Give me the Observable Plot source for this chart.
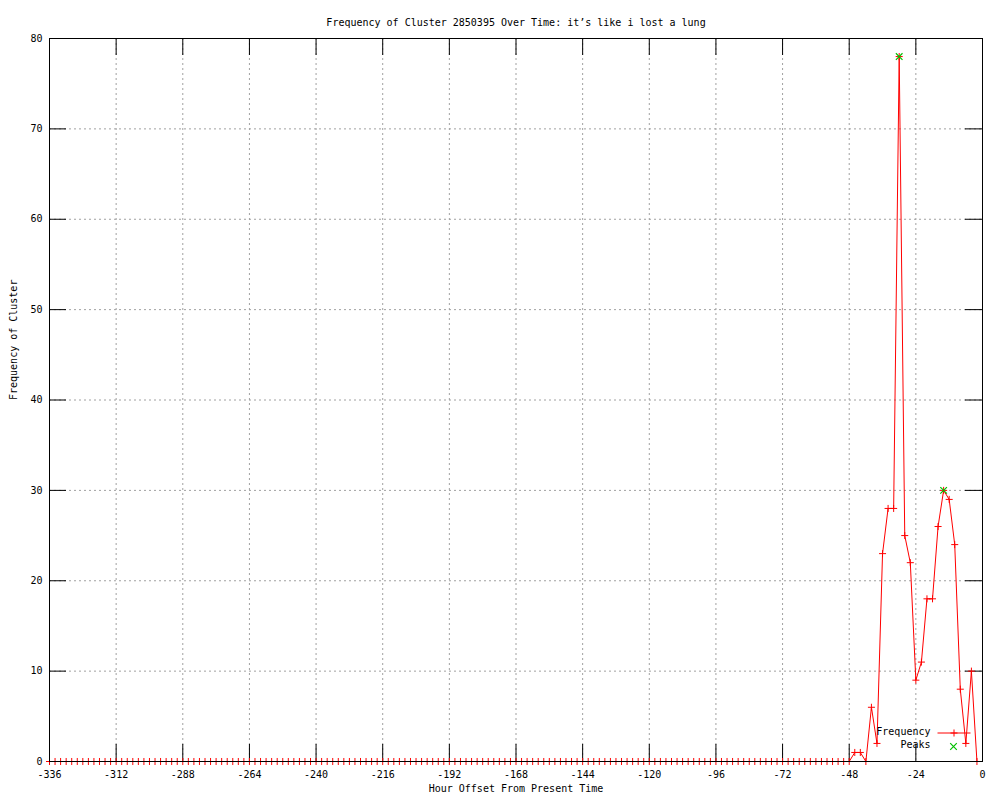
<!DOCTYPE html>
<html>
<head>
<meta charset="utf-8">
<script src="https://cdn.jsdelivr.net/npm/d3@7"></script>
<script src="https://cdn.jsdelivr.net/npm/@observablehq/plot@0.6"></script>
<style>
  html, body { margin: 0; padding: 0; background: #fff; }
  svg { display: block; }
</style>
</head>
<body>
<div id="chart"></div>
<script>
const title = "Frequency of Cluster 2850395 Over Time: it\u2019s like i lost a lung";
const xLabel = "Hour Offset From Present Time";
const yLabel = "Frequency of Cluster";

const hours = [
  -336,-334,-332,-330,-328,-326,-324,-322,-320,-318,-316,-314,
  -312,-310,-308,-306,-304,-302,-300,-298,-296,-294,-292,-290,
  -288,-286,-284,-282,-280,-278,-276,-274,-272,-270,-268,-266,
  -264,-262,-260,-258,-256,-254,-252,-250,-248,-246,-244,-242,
  -240,-238,-236,-234,-232,-230,-228,-226,-224,-222,-220,-218,
  -216,-214,-212,-210,-208,-206,-204,-202,-200,-198,-196,-194,
  -192,-190,-188,-186,-184,-182,-180,-178,-176,-174,-172,-170,
  -168,-166,-164,-162,-160,-158,-156,-154,-152,-150,-148,-146,
  -144,-142,-140,-138,-136,-134,-132,-130,-128,-126,-124,-122,
  -120,-118,-116,-114,-112,-110,-108,-106,-104,-102,-100,-98,
  -96,-94,-92,-90,-88,-86,-84,-82,-80,-78,-76,-74,
  -72,-70,-68,-66,-64,-62,-60,-58,-56,-54,-52,-50,
  -48,-46,-44,-42,-40,-38,-36,-34,-32,-30,-28,-26,
  -24,-22,-20,-18,-16,-14,-12,-10,-8,-6,-4,-2
];
const frequency = [
  0,0,0,0,0,0,0,0,0,0,0,0,
  0,0,0,0,0,0,0,0,0,0,0,0,
  0,0,0,0,0,0,0,0,0,0,0,0,
  0,0,0,0,0,0,0,0,0,0,0,0,
  0,0,0,0,0,0,0,0,0,0,0,0,
  0,0,0,0,0,0,0,0,0,0,0,0,
  0,0,0,0,0,0,0,0,0,0,0,0,
  0,0,0,0,0,0,0,0,0,0,0,0,
  0,0,0,0,0,0,0,0,0,0,0,0,
  0,0,0,0,0,0,0,0,0,0,0,0,
  0,0,0,0,0,0,0,0,0,0,0,0,
  0,0,0,0,0,0,0,0,0,0,0,0,
  0,1,1,0,6,2,23,28,28,78,25,22,
  9,11,18,18,26,30,29,24,8,2,10,0
];
const peakHours = [-30, -14];
const peakValues = [78, 30];

const xTicks = [-336,-312,-288,-264,-240,-216,-192,-168,-144,-120,-96,-72,-48,-24,0];
const yTicks = [0,10,20,30,40,50,60,70,80];

const series = hours.map((h, i) => ({hour: h, freq: frequency[i]}));
const peaks = peakHours.map((h, i) => ({hour: h, freq: peakValues[i]}));

const W = 1000, H = 800;
const mL = 49, mR = 18, mT = 38, mB = 39;
const frameW = W - mL - mR, frameH = H - mT - mB;
const tick = 17;
const font = "DejaVu Sans Mono, monospace";
const red = "#ff0000", green = "#00c000";

const legendLine = {draw(ctx) { ctx.moveTo(-16.5, 0); ctx.lineTo(16.5, 0); }};

const chart = Plot.plot({
  width: W, height: H,
  marginLeft: mL, marginRight: mR, marginTop: mT, marginBottom: mB,
  style: {fontFamily: font, fontSize: "10px", background: "#fff", color: "#000"},
  x: {domain: [-336, 0], axis: null},
  y: {domain: [0, 80], axis: null},
  marks: [
    Plot.ruleX(xTicks, {stroke: "#a0a0a0", strokeDasharray: "2,3"}),
    Plot.ruleY(yTicks, {stroke: "#a0a0a0", strokeDasharray: "2,3"}),
    Plot.ruleX(xTicks, {stroke: "#000", insetTop: frameH - tick}),
    Plot.ruleX(xTicks, {stroke: "#000", insetBottom: frameH - tick}),
    Plot.ruleY(yTicks, {stroke: "#000", insetRight: frameW - tick}),
    Plot.ruleY(yTicks, {stroke: "#000", insetLeft: frameW - tick}),
    Plot.line(series, {x: "hour", y: "freq", stroke: red, strokeWidth: 1}),
    Plot.dot(series, {x: "hour", y: "freq", symbol: "plus", r: 2.4, stroke: red, strokeWidth: 1}),
    Plot.dot(peaks, {x: "hour", y: "freq", symbol: "times", r: 3.1, stroke: green, strokeWidth: 1.2}),
    Plot.frame({stroke: "#000"}),
    Plot.axisX(xTicks, {anchor: "bottom", tickSize: 0, tickPadding: 9, tickFormat: d => String(d), label: null, fontSize: 10}),
    Plot.axisY(yTicks, {anchor: "left", tickSize: 0, tickPadding: 7, tickFormat: d => String(d), label: null, fontSize: 10}),
    Plot.text([title], {frameAnchor: "top", dy: -20, fontSize: 10, fill: "#000"}),
    Plot.text([xLabel], {frameAnchor: "bottom", dy: 30, fontSize: 10, fill: "#000"}),
    Plot.text([yLabel], {frameAnchor: "left", dx: -36, rotate: -90, fontSize: 10, fill: "#000"}),
    Plot.text(["Frequency"], {frameAnchor: "bottom-right", dx: -52, dy: -27, textAnchor: "end", fontSize: 10, fill: "#000"}),
    Plot.text(["Peaks"], {frameAnchor: "bottom-right", dx: -52, dy: -14, textAnchor: "end", fontSize: 10, fill: "#000"}),
    Plot.dot([0], {frameAnchor: "bottom-right", dx: -28.5, dy: -28.5, symbol: legendLine, stroke: red, strokeWidth: 1}),
    Plot.dot([0], {frameAnchor: "bottom-right", dx: -28.5, dy: -28.5, symbol: "plus", r: 2.4, stroke: red, strokeWidth: 1}),
    Plot.dot([0], {frameAnchor: "bottom-right", dx: -29, dy: -15, symbol: "times", r: 3.1, stroke: green, strokeWidth: 1.2})
  ]
});
document.getElementById("chart").appendChild(chart);
</script>
</body>
</html>
